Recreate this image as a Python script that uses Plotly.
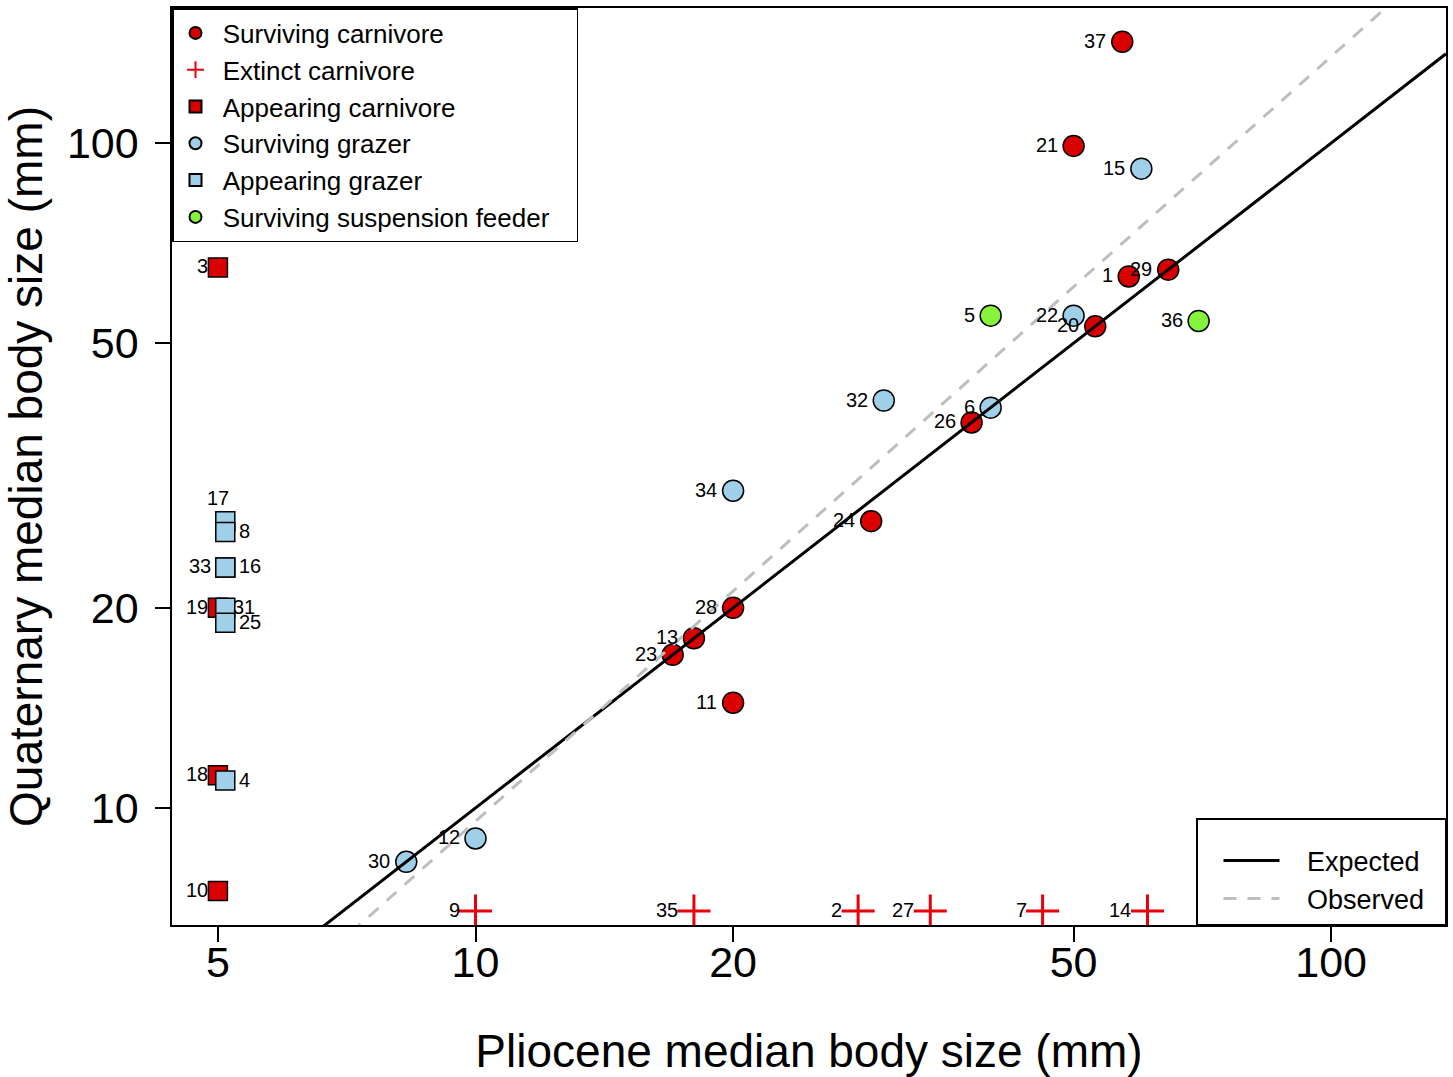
import numpy as np
import plotly.graph_objects as go

# ---------------- data ----------------
# Surviving carnivores
SC_ID = [37, 21, 1, 29, 20, 26, 24, 28, 13, 23, 11]
SC_X = [57, 50, 58, 64.5, 53, 38, 29, 20, 18, 17, 20]
SC_Y = [142, 99, 63, 64.5, 53, 38, 27, 20, 18, 17, 14.4]

# Extinct carnivores (plotted on the bottom row)
EC_ID = [9, 35, 2, 27, 7, 14]
EC_X = [10, 18, 28, 34, 46, 61]
EC_Y = [7, 7, 7, 7, 7, 7]

# Appearing carnivores (plotted on the left column)
AC_ID = [3, 19, 18, 10]
AC_X = [5, 5, 5, 5]
AC_Y = [65, 20, 11.2, 7.5]

# Surviving grazers
SG_ID = [15, 22, 32, 6, 34, 12, 30]
SG_X = [60, 50, 30, 40, 20, 10, 8.3]
SG_Y = [91.5, 55, 41, 40, 30, 9, 8.3]

# Appearing grazers
AG_ID = [17, 8, 33, 16, 31, 25, 4]
AG_X = [5.1, 5.1, 5.1, 5.1, 5.1, 5.1, 5.1]
AG_Y = [27, 26, 23, 23, 20, 19, 11]

# Surviving suspension feeders
SS_ID = [5, 36]
SS_X = [40, 70]
SS_Y = [55, 54]

X_TICKS = [5, 10, 20, 50, 100]
Y_TICKS = [10, 20, 50, 100]

# log10(y) = slope * log10(x) + intercept
EXP_SLOPE, EXP_INTERCEPT = 1.0, 0.0
OBS_SLOPE, OBS_INTERCEPT = 1.15, -0.17

# ---------------- style ----------------
FONT = "Liberation Sans"
RED = "#DB0000"
BLUE = "#A0CFEA"
GREEN = "#86F43C"
CROSS = "#E8000B"
X_RANGE = [0.6453, 2.1342]
Y_RANGE = [0.8241, 2.2030]
NB = "\u00a0"

# label placement (side) per id; default is left
LABEL_SIDE = {17: "above", 8: "right", 16: "right", 31: "right", 25: "right", 4: "right"}
# gap (px) between marker centre and label edge, by group
GAP = {"SC": 16, "SG": 16, "SS": 16, "EC": 16, "AC": 10, "AG": 14}
SPECIAL_GAP = {31: 8}

fig = go.Figure()

mline = dict(color="black", width=1.5)

def add_group(ids, xs, ys, name, symbol, color, size, rank, key, pad_right=0):
    if symbol == "cross-thin":
        marker = dict(symbol=symbol, size=size, line=dict(color=color, width=3), color=color)
    else:
        marker = dict(symbol=symbol, size=size, color=color, line=mline)
    fig.add_trace(go.Scatter(x=xs, y=ys, mode="markers", name=NB + name + NB * pad_right,
                             marker=marker, legendrank=rank, legend="legend",
                             hoverinfo="skip"))
    for i, x, y in zip(ids, xs, ys):
        side = LABEL_SIDE.get(i, "left")
        gap = SPECIAL_GAP.get(i, GAP[key])
        ann = dict(x=np.log10(x), y=np.log10(y), xref="x", yref="y", text=str(i),
                   showarrow=False, font=dict(family=FONT, size=20, color="black"))
        if side == "left":
            ann.update(xanchor="right", yanchor="middle", xshift=-(gap - 2), yshift=1)
        elif side == "right":
            ann.update(xanchor="left", yanchor="middle", xshift=gap - 2, yshift=1)
        else:  # above, centred on the nominal x of the column
            ann.update(xanchor="center", yanchor="middle", xshift=-7, yshift=23)
        fig.add_annotation(**ann)

add_group(SG_ID, SG_X, SG_Y, "Surviving grazer", "circle", BLUE, 21, 4, "SG")
add_group(SS_ID, SS_X, SS_Y, "Surviving suspension feeder", "circle", GREEN, 21, 6, "SS", pad_right=3)
add_group(AC_ID, AC_X, AC_Y, "Appearing carnivore", "square", RED, 19, 3, "AC")
add_group(AG_ID, AG_X, AG_Y, "Appearing grazer", "square", BLUE, 19, 5, "AG")
add_group(SC_ID, SC_X, SC_Y, "Surviving carnivore", "circle", RED, 21, 1, "SC")
add_group(EC_ID, EC_X, EC_Y, "Extinct carnivore", "cross-thin", CROSS, 23.6, 2, "EC")

# fitted lines across the full x range
lx = np.array(X_RANGE)
for name, slope, icpt, color, dash, rank in [
    ("Expected", EXP_SLOPE, EXP_INTERCEPT, "black", "solid", 1),
    ("Observed", OBS_SLOPE, OBS_INTERCEPT, "#BEBEBE", "13px,11px", 2),
]:
    fig.add_trace(go.Scatter(x=10 ** lx, y=10 ** (slope * lx + icpt), mode="lines",
                             name=NB * 3 + name + NB * 2,
                             line=dict(color=color, width=3, dash=dash),
                             legend="legend2", legendrank=rank, hoverinfo="skip"))

axis_common = dict(type="log", ticks="outside", ticklen=15, tickwidth=1.5, tickcolor="black",
                   showline=True, linecolor="black", linewidth=1.5, mirror=True,
                   showgrid=False, zeroline=False,
                   tickfont=dict(family=FONT, size=43, color="black"))

fig.update_layout(
    width=1453, height=1077,
    margin=dict(l=172, r=5, t=8, b=152),
    paper_bgcolor="white", plot_bgcolor="white",
    font=dict(family=FONT, color="black"),
    xaxis=dict(range=X_RANGE, tickvals=X_TICKS, ticktext=[str(v) for v in X_TICKS],
               ticklabelstandoff=-16,
               title=dict(text="Pliocene median body size (mm)",
                          font=dict(family=FONT, size=46, color="black"), standoff=50),
               **axis_common),
    yaxis=dict(range=Y_RANGE, tickvals=Y_TICKS, ticktext=[str(v) for v in Y_TICKS],
               ticklabelstandoff=8,
               title=dict(text="Quaternary median body size (mm)",
                          font=dict(family=FONT, size=46, color="black"), standoff=10),
               **axis_common),
    legend=dict(x=0, y=1, xanchor="left", yanchor="top", bgcolor="white",
                bordercolor="black", borderwidth=1.5, itemsizing="constant", indentation=2,
                font=dict(family=FONT, size=26, color="black"), traceorder="normal"),
    legend2=dict(x=1, y=0, xanchor="right", yanchor="bottom", bgcolor="white",
                 bordercolor="black", borderwidth=1.5, itemwidth=56, indentation=21,
                 title=dict(text=NB, font=dict(family=FONT, size=13)),
                 font=dict(family=FONT, size=27, color="black"), traceorder="normal"),
    showlegend=True,
)

fig.write_html("out.html", config={"displayModeBar": False},
               post_script="document.body.style.margin='0';document.body.style.overflow='hidden';")
